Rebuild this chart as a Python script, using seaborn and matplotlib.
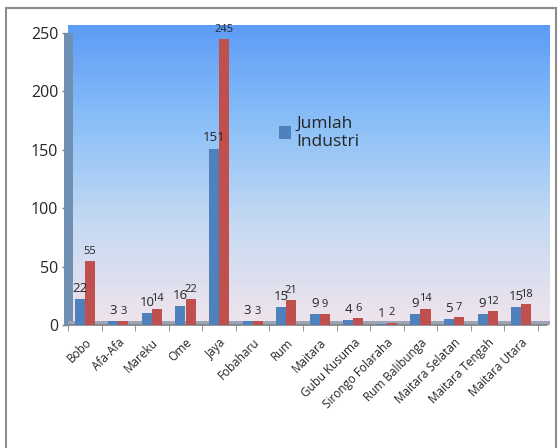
import numpy as np
import pandas as pd
import matplotlib
matplotlib.use("Agg")
import matplotlib.pyplot as plt
import seaborn as sns
from matplotlib.patches import Rectangle, Patch

sns.set_style("white")
plt.rcParams['font.family'] = ['Open Sans', 'DejaVu Sans']

# data
desa = ["Bobo", "Afa-Afa", "Mareku", "Ome", "Jaya", "Fobaharu", "Rum",
        "Maitara", "Gubu Kusuma", "Sirongo Folaraha", "Rum Balibunga",
        "Maitara Selatan", "Maitara Tengah", "Maitara Utara"]
jumlah_industri = [22, 3, 10, 16, 151, 3, 15, 9, 4, 1, 9, 5, 9, 15]
tenaga_kerja = [55, 3, 14, 22, 245, 3, 21, 9, 6, 2, 14, 7, 12, 18]

df = pd.DataFrame({
    "desa": desa * 2,
    "nilai": jumlah_industri + tenaga_kerja,
    "seri": ["Jumlah Industri"] * len(desa) + ["Tenaga Kerja"] * len(desa),
})

blue = "#4f81bd"
red = "#c0504d"

fig = plt.figure(figsize=(5.6, 4.48), dpi=100)
fig.patches.append(Rectangle((6 / 560, -0.01), 550 / 560, 1 - 8 / 448 + 0.01,
                             transform=fig.transFigure, fill=False,
                             edgecolor="#8c8c8c", linewidth=1.5))

ax = fig.add_axes([68 / 560, 123 / 448, 470 / 560, 299 / 448])

# background gradient (blue top -> pale bottom)
grad = np.linspace(0, 1, 256).reshape(-1, 1)
cmap = matplotlib.colors.LinearSegmentedColormap.from_list(
    "bg", ["#5c9cf6", "#8cc0f8", "#c6daf2", "#f0e4ec"])
ax.imshow(grad, aspect="auto", cmap=cmap, extent=[0, 1.025, 0, 1],
          transform=ax.transAxes, zorder=0, clip_on=False)

sns.barplot(data=df, x="desa", y="nilai", hue="seri",
            palette=[blue, red], width=0.6, saturation=1,
            edgecolor="none", legend=False, ax=ax, zorder=3)

# value labels
for cont, fs in zip(ax.containers, [9.5, 8]):
    ax.bar_label(cont, labels=[f"{v:g}" for v in cont.datavalues],
                 fontsize=fs, padding=3, zorder=4)

ax.set_ylim(0, 256)
ax.set_xlim(-0.5, len(desa) - 0.5)
ax.set_yticks([0, 50, 100, 150, 200, 250])
ax.tick_params(axis="y", labelsize=11.5, length=4, width=1, color="#808080",
               left=True, pad=3)
ax.set_xticks(range(len(desa)))
ax.set_xticklabels(desa, rotation=45, ha="right", rotation_mode="anchor",
                   fontsize=8.5)
ax.tick_params(axis="x", length=0, pad=8)
ax.set_xticks(np.arange(-0.5, len(desa), 1), minor=True)
ax.tick_params(axis="x", which="minor", length=4, color="#808080", bottom=True)
ax.set_xlabel("")
ax.set_ylabel("")
for s in ax.spines.values():
    s.set_visible(False)

# left wall and floor of the 3d look
ax.add_patch(Rectangle((-0.008, 0), 0.018, 0.975, transform=ax.transAxes,
                       facecolor="#6f8fb3", edgecolor="none", zorder=1,
                       clip_on=False))
ax.add_patch(Rectangle((0, 0), 1.025, 0.015, transform=ax.transAxes,
                       facecolor="#9aa6b8", edgecolor="none", zorder=1,
                       clip_on=False))
ax.plot([0, 1.02], [0, 0], transform=ax.transAxes, color="#808080",
        lw=1.2, clip_on=False, zorder=2)

ax.legend(handles=[Patch(facecolor=blue, edgecolor="none",
                         label="Jumlah\nIndustri")],
          loc="upper left", bbox_to_anchor=(0.43, 0.73), frameon=False,
          fontsize=12.5, handlelength=0.7, handleheight=0.7,
          handletextpad=0.3, borderpad=0)

fig.savefig("out.png", dpi=100)
